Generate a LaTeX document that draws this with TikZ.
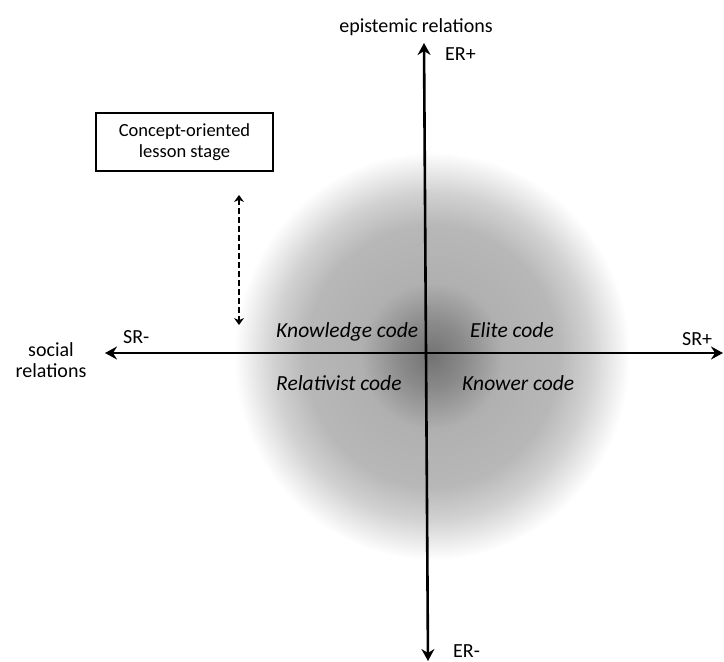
\documentclass[tikz,border=0pt]{standalone}
\usepackage{fontspec}
\setmainfont{Carlito}
\usetikzlibrary{arrows.meta}
\pgfdeclareradialshading{codeblob}{\pgfpoint{0bp}{0bp}}{%
color(0bp)=(black!55); color(4bp)=(black!46); color(9bp)=(black!31);
color(16bp)=(black!28); color(20bp)=(black!18); color(25bp)=(white); color(50bp)=(white)}
\begin{document}
\begin{tikzpicture}[x=1pt,y=-1pt,
  axis/.style={line width=2.6pt,{Stealth[length=12pt,width=13pt,inset=4pt]}-{Stealth[length=12pt,width=13pt,inset=4pt]}},
  stagemove/.style={line width=2pt,dash pattern=on 6pt off 3pt,{Stealth[length=7pt,width=10pt]}-{Stealth[length=7pt,width=10pt]}},
  lbl/.style={inner sep=0pt,font=\fontsize{20}{20.5}\selectfont},
  code/.style={inner sep=0pt,anchor=base west,font=\fontsize{21.5}{23}\selectfont\itshape}]
\useasboundingbox (0,0) rectangle (724,662);
\shade[shading=codeblob] (432,356) ellipse [x radius=198pt,y radius=204pt];
\coordinate (srneg) at (105,353);
\coordinate (srpos) at (723,353);
\coordinate (erpos) at (424,43);
\coordinate (erneg) at (428,661);
\draw[axis] (srneg) -- (srpos);
\draw[axis] (erneg) -- (erpos);
\node[lbl,anchor=base] (ertitle) at (416,32) {epistemic relations};
\node[lbl,anchor=base west] (erplus) at (445,60) {ER+};
\node[lbl,anchor=base west] (erminus) at (453,657) {ER-};
\node[lbl,anchor=base west] (srminus) at (123,343) {SR-};
\node[lbl,anchor=base west] (srplus) at (682,345) {SR+};
\node[lbl,align=center] (srtitle) at (51,360) {social\\relations};
\foreach \n/\x/\y/\t in {knowledge/276/337/Knowledge code,elite/470/337/Elite code,relativist/276/390/Relativist code,knower/462/390/Knower code}
  \node[code] (\n) at (\x,\y) {\t};
\node[draw,line width=1.2pt,minimum width=177pt,minimum height=58pt,align=center,
  font=\fontsize{18.5}{21}\selectfont] (stage) at (184.5,142) {Concept-oriented\\lesson stage};
\coordinate (stagetop) at (239,195);
\coordinate (stagebot) at (239,325);
\draw[stagemove] (stagetop) -- (stagebot);
\end{tikzpicture}
\end{document}
